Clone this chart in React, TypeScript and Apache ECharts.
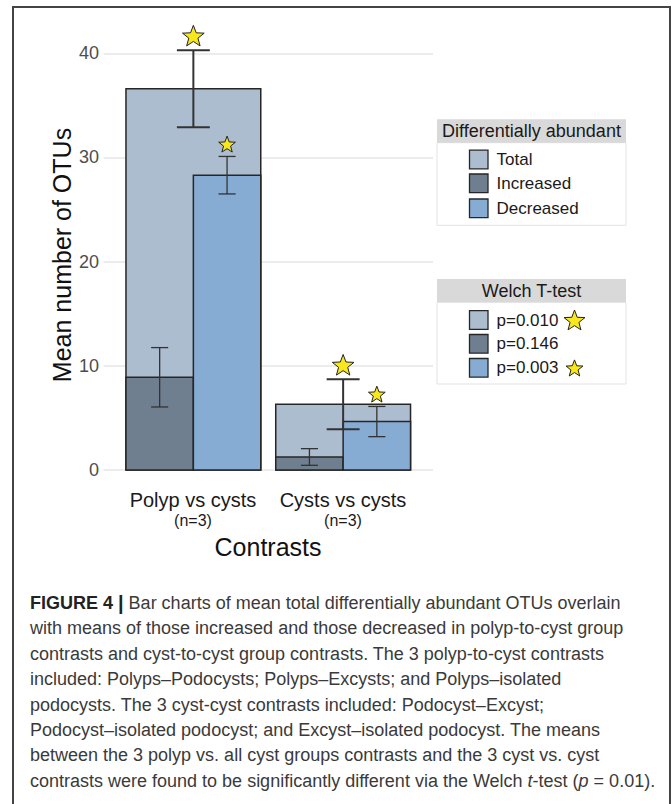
import React, { useEffect, useRef } from "react";
import * as echarts from "echarts";

// ---- data ----
const categories = ["Polyp vs cysts", "Cysts vs cysts"];
const groupSizes = ["(n=3)", "(n=3)"];
const seriesNames = ["Total", "Increased", "Decreased"];
const totalMean = [36.6, 6.3];
const increasedMean = [8.9, 1.25];
const decreasedMean = [28.3, 4.65];
const totalErr = [3.7, 2.4];
const increasedErr = [2.85, 0.8];
const decreasedErr = [1.8, 1.45];
const welchP = [0.01, 0.146, 0.003];
const starKinds = ["large", "", "small"];
const yTicks = [0, 10, 20, 30, 40];

const captionLines = [
  "{b|FIGURE 4} {bar||} Bar charts of mean total differentially abundant OTUs overlain",
  "with means of those increased and those decreased in polyp-to-cyst group",
  "contrasts and cyst-to-cyst group contrasts. The 3 polyp-to-cyst contrasts",
  "included: Polyps\u2013Podocysts; Polyps\u2013Excysts; and Polyps\u2013isolated",
  "podocysts. The 3 cyst-cyst contrasts included: Podocyst\u2013Excyst;",
  "Podocyst\u2013isolated podocyst; and Excyst\u2013isolated podocyst. The means",
  "between the 3 polyp vs. all cyst groups contrasts and the 3 cyst vs. cyst",
  "contrasts were found to be significantly different via the Welch {i|t}-test ({i|p} = 0.01).",
];

const COLORS = ["#adbdd0", "#707f90", "#87acd4"];
const FONT = "'Liberation Sans', Arial, Helvetica, sans-serif";
const STAR_FILL = "#f8e71c";

function starPoints(cx: number, cy: number, R: number) {
  const pts: number[][] = [];
  for (let i = 0; i < 10; i++) {
    const a = -Math.PI / 2 + (i * Math.PI) / 5;
    const r = i % 2 === 0 ? R : R * 0.42;
    pts.push([cx + r * Math.cos(a), cy + r * Math.sin(a)]);
  }
  return pts;
}

export default function App() {
  const ref = useRef<HTMLDivElement>(null);
  useEffect(() => {
    if (!ref.current) return;
    const chart = echarts.init(ref.current, undefined, { renderer: "svg" });

    const means = [totalMean, increasedMean, decreasedMean];
    const errs = [totalErr, increasedErr, decreasedErr];
    const offsets = [0, -0.225, 0.225];
    const halfWidths = [0.45, 0.225, 0.225];
    const capHalf = [0.11, 0.057, 0.057];
    const errWidth = [2, 1.3, 1.3];

    const barSeries = means.map((m, k) => ({
      type: "custom",
      name: seriesNames[k],
      xAxisIndex: 0,
      yAxisIndex: 0,
      clip: false,
      z: 2 + k,
      data: categories.map((_, i) => [i + 1 + offsets[k], m[i]]),
      renderItem: (params: any, api: any) => {
        const x = api.value(0);
        const v = api.value(1);
        const p0 = api.coord([x - halfWidths[k], v]);
        const p1 = api.coord([x + halfWidths[k], 0]);
        return {
          type: "rect",
          shape: { x: p0[0], y: p0[1], width: p1[0] - p0[0], height: p1[1] - p0[1] },
          style: { fill: COLORS[k], stroke: "#262626", lineWidth: 1.5 },
        };
      },
    }));

    const errSeries = means.map((m, k) => ({
      type: "custom",
      name: seriesNames[k] + " error",
      xAxisIndex: 0,
      yAxisIndex: 0,
      clip: false,
      z: 10,
      data: categories.map((_, i) => [i + 1 + offsets[k], m[i], errs[k][i]]),
      renderItem: (params: any, api: any) => {
        const x = api.value(0);
        const v = api.value(1);
        const e = api.value(2);
        const top = api.coord([x, v + e]);
        const bot = api.coord([x, v - e]);
        const l = api.coord([x - capHalf[k], v])[0];
        const r = api.coord([x + capHalf[k], v])[0];
        const st = { stroke: "#333", lineWidth: errWidth[k] };
        const children: any[] = [
          { type: "line", shape: { x1: top[0], y1: top[1], x2: bot[0], y2: bot[1] }, style: st },
          { type: "line", shape: { x1: l, y1: top[1], x2: r, y2: top[1] }, style: st },
          { type: "line", shape: { x1: l, y1: bot[1], x2: r, y2: bot[1] }, style: st },
        ];
        if (starKinds[k]) {
          const big = starKinds[k] === "large";
          const R = big ? 11.4 : 8.8;
          const off = big ? 13.5 : 11.5;
          children.push({
            type: "polygon",
            shape: { points: starPoints(top[0], top[1] - off, R) },
            style: { fill: STAR_FILL, stroke: "#222", lineWidth: 1 },
          });
        }
        return { type: "group", children };
      },
    }));

    // legend graphics
    const legendGraphics: any[] = [];
    const boxX = 437;
    const boxW = 189;
    const addBox = (title: string, titleTop: number, titleBottom: number, bodyBottom: number, itemYs: number[], labels: string[], withStars: boolean) => {
      legendGraphics.push({
        type: "rect",
        shape: { x: boxX, y: titleBottom, width: boxW, height: bodyBottom - titleBottom },
        style: { fill: "#fff", stroke: "#e3e3e3", lineWidth: 1 },
      });
      legendGraphics.push({
        type: "rect",
        shape: { x: boxX, y: titleTop, width: boxW, height: titleBottom - titleTop },
        style: { fill: "#d9d9d9" },
      });
      legendGraphics.push({
        type: "text",
        x: boxX + boxW / 2,
        y: (titleTop + titleBottom) / 2,
        style: { text: title, fontFamily: FONT, fontSize: 18, fill: "#1a1a1a", align: "center", verticalAlign: "middle" },
      });
      itemYs.forEach((cy, k) => {
        legendGraphics.push({
          type: "rect",
          shape: { x: 469.5, y: cy - 9.3, width: 18.5, height: 18.6 },
          style: { fill: COLORS[k], stroke: "#262626", lineWidth: 1.3 },
        });
        legendGraphics.push({
          type: "text",
          x: 496.5,
          y: cy,
          style: { text: labels[k], fontFamily: FONT, fontSize: 17, fill: "#1a1a1a", align: "left", verticalAlign: "middle" },
        });
        if (withStars && starKinds[k]) {
          const big = starKinds[k] === "large";
          legendGraphics.push({
            type: "polygon",
            shape: { points: starPoints(574.5, cy + 1, big ? 11 : 8.9) },
            style: { fill: STAR_FILL, stroke: "#222", lineWidth: 1 },
          });
        }
      });
    };
    addBox("Differentially abundant", 119.3, 142.7, 225.3, [159.5, 183.3, 208.3], seriesNames, false);
    addBox(
      "Welch T-test",
      279,
      302.3,
      384,
      [320, 343.8, 367.8],
      welchP.map((p) => "p=" + p.toFixed(3)),
      true
    );

    const captionGraphics = captionLines.map((line, i) => ({
      type: "text",
      x: 30,
      y: 603 + i * 25.4,
      style: {
        text: line,
        fontFamily: FONT,
        fontSize: 18,
        fill: "#3a3a3a",
        align: "left",
        verticalAlign: "middle",
        rich: {
          b: { fontFamily: FONT, fontSize: 18, fontWeight: "bold", fill: "#222" },
          bar: { fontFamily: FONT, fontSize: 20, fontWeight: "bold", fill: "#222" },
          i: { fontFamily: FONT, fontSize: 18, fontStyle: "italic", fill: "#3a3a3a" },
        },
      },
    }));

    const option: any = {
      animation: false,
      backgroundColor: "#fff",
      grid: [
        { left: 103.5, width: 329.5, top: 53.3, height: 416.7, containLabel: false },
        { left: 118, width: 300, top: 53.3, height: 416.7, containLabel: false },
      ],
      xAxis: [
        { type: "value", gridIndex: 0, min: 0.4, max: 2.6, show: false },
        {
          type: "category",
          gridIndex: 1,
          data: categories.map((c, i) => c + "\n" + groupSizes[i]),
          boundaryGap: true,
          axisLine: { show: false },
          axisTick: { show: false },
          axisLabel: {
            interval: 0,
            hideOverlap: false,
            margin: 19,
            fontFamily: FONT,
            fontSize: 20,
            color: "#1a1a1a",
            lineHeight: 22,
            formatter: (v: string) => "{c|" + v.split("\n")[0] + "}\n{n|" + v.split("\n")[1] + "}",
            rich: {
              c: { fontFamily: FONT, fontSize: 20, color: "#1a1a1a", lineHeight: 22 },
              n: { fontFamily: FONT, fontSize: 16, color: "#1a1a1a", lineHeight: 18 },
            },
          },
          name: "Contrasts",
          nameLocation: "middle",
          nameGap: 64,
          nameTextStyle: { fontFamily: FONT, fontSize: 25, color: "#111" },
        },
      ],
      yAxis: [
        {
          type: "value",
          gridIndex: 0,
          min: yTicks[0],
          max: yTicks[yTicks.length - 1],
          interval: 10,
          axisLine: { show: false },
          axisTick: { show: false },
          splitLine: { show: true, lineStyle: { color: "#e6e6e6", width: 1.5 } },
          axisLabel: { fontFamily: FONT, fontSize: 18, color: "#4d4d4d", margin: 4.5 },
        },
        { type: "value", gridIndex: 1, min: 0, max: 40, show: false },
      ],
      graphic: [
        {
          type: "rect",
          shape: { x: 13, y: 7, width: 657, height: 830 },
          style: { fill: "none", stroke: "#444", lineWidth: 2 },
          silent: true,
        },
        {
          type: "text",
          x: 62,
          y: 255,
          rotation: Math.PI / 2,
          style: { text: "Mean number of OTUs", fontFamily: FONT, fontSize: 25, fill: "#111", align: "center", verticalAlign: "middle" },
        },
        ...legendGraphics,
        ...captionGraphics,
      ],
      series: [...barSeries, ...errSeries],
    };
    chart.setOption(option);
    return () => chart.dispose();
  }, []);
  return <div ref={ref} style={{ position: "absolute", left: 0, top: 0, width: 672, height: 804 }} />;
}
